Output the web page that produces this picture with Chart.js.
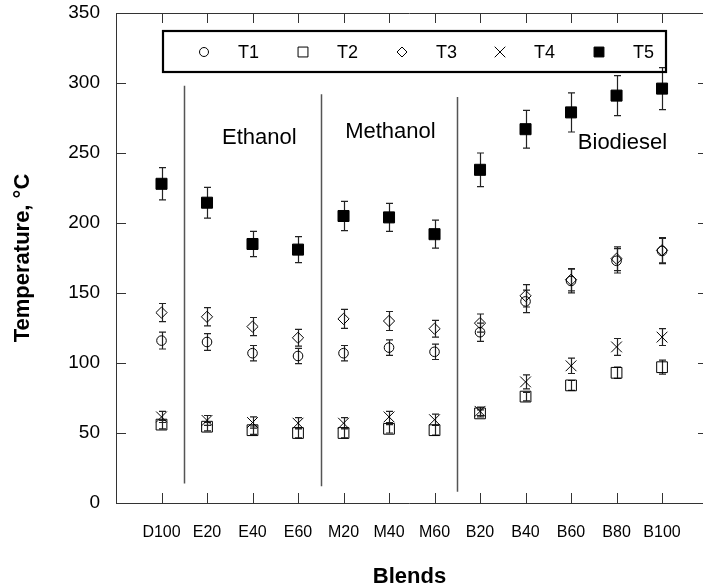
<!DOCTYPE html>
<html><head><meta charset="utf-8">
<script src="https://cdn.jsdelivr.net/npm/chart.js@4.4.1/dist/chart.umd.min.js"></script>
<style>html,body{margin:0;padding:0;background:#fff}</style>
</head><body>
<canvas id="c" width="703" height="588"></canvas>
<script>
// ---- data ----
const categories = ['D100','E20','E40','E60','M20','M40','M60','B20','B40','B60','B80','B100'];
const T1 = [116, 115, 107, 105, 107, 111, 108, 122, 144, 158.6, 173, 180];
const T1err = [6, 6, 5.5, 5.5, 5.5, 5.5, 5.5, 6.5, 8, 8.5, 8.7, 9];
const T2 = [56, 54.5, 52, 50, 50, 53, 52, 64, 76, 84, 93, 97];
const T2err = [3, 3, 3, 3.5, 3.5, 3, 3.5, 2.5, 3, 3.5, 4, 5];
const T3 = [136, 133, 126, 118, 131.5, 130, 124.5, 128.5, 148, 159.5, 174.5, 180.5];
const T3err = [6.5, 6.5, 6.5, 6, 6.8, 6.8, 6, 6.5, 8, 8, 8.5, 9];
const T4 = [61.5, 59, 57.5, 57, 57, 61.5, 59.5, 65.5, 86.5, 98, 111.5, 118.5];
const T4err = [4, 3.5, 4, 4, 4, 4, 4, 3, 5, 5.5, 6, 6];
const T5 = [228, 214.5, 185, 181, 205, 204, 192, 238, 267, 279, 291, 296];
const T5err = [11.5, 11, 9, 9.3, 10.5, 10, 10, 12, 13.5, 14, 14.3, 15];
const seriesNames = ['T1','T2','T3','T4','T5'];
const yTicks = [0, 50, 100, 150, 200, 250, 300, 350];
const groupNames = ['Ethanol','Methanol','Biodiesel'];
const groupLabelX = [3.15, 6.03, 11.13];
const groupLabelY = [261, 265, 257];
const separatorX = [1.5, 4.5, 7.5];
const separatorTop = [298, 292, 290];
const separatorBottom = [14, 12, 8];

const FONT = "Arial, 'Liberation Sans', Helvetica, sans-serif";
const toPts = arr => arr.map((v, i) => ({x: i + 1, y: v}));
const allVals = [T1, T2, T3, T4, T5];
const allErr = [T1err, T2err, T3err, T4err, T5err];
const styles = [
  {pointStyle: 'circle', pointRadius: 4.8, bg: 'rgba(0,0,0,0)', legendR: 4.5},
  {pointStyle: 'rect', pointRadius: 7.6, bg: 'rgba(0,0,0,0)', legendR: 7},
  {pointStyle: 'rectRot', pointRadius: 5.6, bg: 'rgba(0,0,0,0)', legendR: 5},
  {pointStyle: 'crossRot', pointRadius: 7.6, bg: 'rgba(0,0,0,0)', legendR: 7.5},
  {pointStyle: 'rect', pointRadius: 7.8, bg: '#000', legendR: 7}
];
const datasets = allVals.map((vals, k) => ({
  label: seriesNames[k],
  data: toPts(vals),
  showLine: false,
  pointStyle: styles[k].pointStyle,
  pointRadius: styles[k].pointRadius,
  pointBackgroundColor: styles[k].bg,
  pointBorderColor: '#000',
  pointBorderWidth: 1,
  errors: allErr[k]
}));

const decor = {
  id: 'decor',
  beforeDatasetsDraw(chart) {
    const {ctx, scales: {x, y}} = chart;
    ctx.save();
    ctx.strokeStyle = '#555';
    ctx.lineWidth = 1.5;
    separatorX.forEach((v, i) => {
      const px = Math.round(x.getPixelForValue(v)) + 0.5;
      ctx.beginPath();
      ctx.moveTo(px, y.getPixelForValue(separatorTop[i]));
      ctx.lineTo(px, y.getPixelForValue(separatorBottom[i]));
      ctx.stroke();
    });
    // error bars
    ctx.strokeStyle = '#222';
    ctx.lineWidth = 1.2;
    chart.data.datasets.forEach(ds => {
      ds.data.forEach((p, i) => {
        const e = ds.errors[i];
        const px = Math.round(x.getPixelForValue(p.x)) + 0.5;
        const y1 = y.getPixelForValue(p.y + e), y2 = y.getPixelForValue(p.y - e);
        ctx.beginPath();
        ctx.moveTo(px, y1); ctx.lineTo(px, y2);
        ctx.moveTo(px - 3.5, y1); ctx.lineTo(px + 3.5, y1);
        ctx.moveTo(px - 3.5, y2); ctx.lineTo(px + 3.5, y2);
        ctx.stroke();
      });
    });
    ctx.restore();
  },
  afterDraw(chart) {
    const {ctx, chartArea: a, scales: {x, y}} = chart;
    ctx.save();
    // frame
    ctx.strokeStyle = '#333';
    ctx.lineWidth = 1;
    ctx.beginPath();
    ctx.moveTo(a.left + 0.5, a.top + 0.5); ctx.lineTo(a.left + 0.5, a.bottom + 0.5);
    ctx.lineTo(a.right, a.bottom + 0.5);
    ctx.moveTo(a.left, a.top + 0.5); ctx.lineTo(a.right, a.top + 0.5);
    ctx.stroke();
    ctx.beginPath();
    yTicks.forEach(v => {
      const py = Math.round(y.getPixelForValue(v)) + 0.5;
      ctx.moveTo(a.left, py); ctx.lineTo(a.left + 10, py);
      ctx.moveTo(a.right - 5, py); ctx.lineTo(a.right, py);
    });
    categories.forEach((c, i) => {
      const px = Math.round(x.getPixelForValue(i + 1)) + 0.5;
      ctx.moveTo(px, a.bottom); ctx.lineTo(px, a.bottom - 10);
      ctx.moveTo(px, a.top); ctx.lineTo(px, a.top + 10);
    });
    ctx.stroke();

    // group labels
    ctx.fillStyle = '#000';
    ctx.font = '22px ' + FONT;
    ctx.textAlign = 'center';
    ctx.textBaseline = 'middle';
    groupNames.forEach((g, i) => {
      ctx.fillText(g, x.getPixelForValue(groupLabelX[i]), y.getPixelForValue(groupLabelY[i]));
    });

    // axis titles
    ctx.font = 'bold 22px ' + FONT;
    ctx.fillText('Blends', (a.left + a.right) / 2, 577);
    ctx.save();
    ctx.translate(23, (a.top + a.bottom) / 2);
    ctx.rotate(-Math.PI / 2);
    ctx.fillText('Temperature, °C', 0, 0);
    ctx.restore();

    // legend box
    ctx.strokeStyle = '#000';
    ctx.lineWidth = 2.2;
    ctx.strokeRect(163, 31, 503, 41);
    const mx = [204, 303, 402, 500, 599];
    const ly = 52;
    ctx.font = '18px ' + FONT;
    ctx.textAlign = 'left';
    chart.data.datasets.forEach((ds, k) => {
      ctx.fillStyle = ds.pointBackgroundColor;
      ctx.strokeStyle = '#000';
      ctx.lineWidth = 1;
      Chart.helpers.drawPoint(ctx, {
        pointStyle: ds.pointStyle,
        radius: styles[k].legendR,
        borderWidth: 1,
        rotation: 0
      }, mx[k], ly);
      ctx.fillStyle = '#000';
      ctx.fillText(ds.label, mx[k] + 34, ly + 1);
    });
    ctx.restore();
  }
};

new Chart(document.getElementById('c'), {
  type: 'scatter',
  data: {datasets},
  options: {
    responsive: false,
    animation: false,
    events: [],
    layout: {autoPadding: false, padding: {top: 13, left: 0, right: 0, bottom: 0}},
    plugins: {legend: {display: false}, tooltip: {enabled: false}},
    scales: {
      x: {
        type: 'linear', min: 0, max: 12.9,
        grid: {display: false, drawTicks: false},
        border: {display: false},
        afterBuildTicks: s => { s.ticks = categories.map((c, i) => ({value: i + 1})); },
        afterFit: s => { s.height = 85; s.paddingLeft = 0; s.paddingRight = 0; },
        ticks: {
          autoSkip: false, maxRotation: 0,
          padding: 20,
          color: '#000',
          font: {family: FONT, size: 16},
          callback: v => categories[v - 1] || ''
        }
      },
      y: {
        type: 'linear', min: 0, max: 350,
        grid: {display: false, drawTicks: false},
        border: {display: false},
        afterFit: s => { s.width = 116; s.paddingTop = 0; s.paddingBottom = 0; },
        ticks: {
          stepSize: 50, padding: 16, color: '#000',
          font: {family: FONT, size: 19}
        }
      }
    }
  },
  plugins: [decor]
});
</script>
</body></html>
